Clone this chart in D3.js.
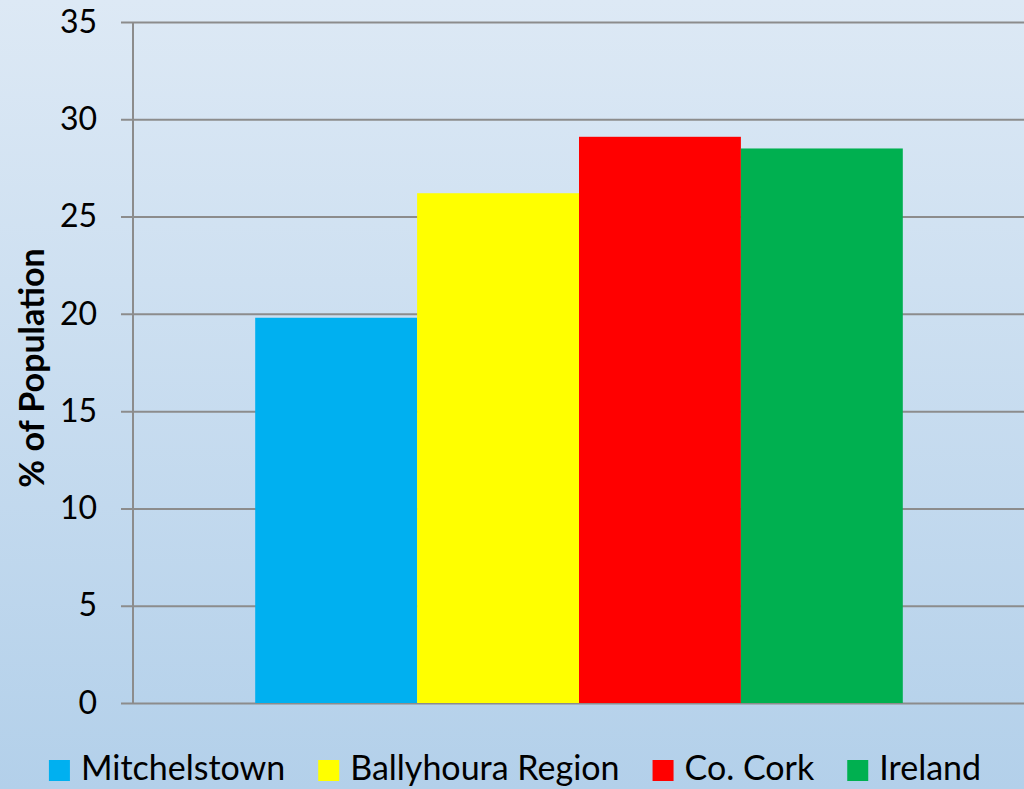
<!DOCTYPE html>
<html>
<head>
<meta charset="utf-8">
<script src="https://cdn.jsdelivr.net/npm/d3@7"></script>
<style>
  html, body { margin: 0; padding: 0; overflow: hidden; }
  body { width: 1024px; height: 789px; }
  text { font-family: Lato, "Open Sans", sans-serif; fill: #000; }
</style>
</head>
<body>
<div id="chart"></div>
<script>
// Chart data
const regions = ["Mitchelstown", "Ballyhoura Region", "Co. Cork", "Ireland"];
const percentages = [19.8, 26.2, 29.1, 28.5];
const barColors = ["#00b0f0", "#ffff00", "#ff0000", "#00b050"];
const yTicks = [0, 5, 10, 15, 20, 25, 30, 35];

const width = 1024, height = 789;
const margin = { top: 22, right: -1, bottom: 86, left: 133 };
const innerW = width - margin.left - margin.right;
const innerH = height - margin.top - margin.bottom;

const svg = d3.select("#chart")
    .append("svg")
    .attr("width", width)
    .attr("height", height);

// background gradient
const grad = svg.append("defs").append("linearGradient")
    .attr("id", "bg")
    .attr("x1", 0).attr("y1", 0).attr("x2", 0).attr("y2", 1);
grad.append("stop").attr("offset", "0%").attr("stop-color", "#dde9f5");
grad.append("stop").attr("offset", "100%").attr("stop-color", "#b3d0ea");

svg.append("rect")
    .attr("width", width)
    .attr("height", height)
    .attr("fill", "url(#bg)");

const g = svg.append("g")
    .attr("transform", `translate(${margin.left},${margin.top})`);

const y = d3.scaleLinear().domain([0, 35]).range([innerH, 0]);

// one category, bars placed side by side in the middle
const x = d3.scaleBand()
    .domain(regions)
    .range([innerW * 0.137, innerW * 0.863]);

// gridlines + ticks
const yAxis = d3.axisLeft(y)
    .tickValues(yTicks)
    .tickSize(-innerW - 12)
    .tickPadding(24);

const axisG = g.append("g")
    .attr("transform", "translate(-12,0)")
    .call(yAxis);
axisG.select(".domain").remove();
axisG.selectAll(".tick line")
    .attr("x1", 0)
    .attr("x2", innerW + 12)
    .attr("stroke", "#8c8c8c")
    .attr("stroke-width", 2);
axisG.selectAll(".tick text")
    .attr("x", -24)
    .style("font-size", "32px")
    .style("font-family", "Lato, sans-serif");

// vertical axis line
g.append("line")
    .attr("x1", 0).attr("x2", 0)
    .attr("y1", 0).attr("y2", innerH)
    .attr("stroke", "#8c8c8c")
    .attr("stroke-width", 2);

// bars
g.selectAll(".bar")
    .data(regions)
    .enter()
    .append("rect")
    .attr("class", "bar")
    .attr("x", d => x(d))
    .attr("width", x.bandwidth())
    .attr("y", (d, i) => y(percentages[i]))
    .attr("height", (d, i) => innerH - y(percentages[i]))
    .attr("fill", (d, i) => barColors[i]);

// y axis title
svg.append("text")
    .attr("transform", `translate(44,368) rotate(-90)`)
    .attr("text-anchor", "middle")
    .style("font-size", "34px")
    .style("font-weight", "bold")
    .text("% of Population");

// legend
const legend = svg.append("g").attr("class", "legend");
const items = legend.selectAll("g")
    .data(regions)
    .enter()
    .append("g");

items.append("rect")
    .attr("width", 21)
    .attr("height", 21)
    .attr("y", -21)
    .attr("fill", (d, i) => barColors[i]);

items.append("text")
    .attr("x", 32)
    .attr("y", -1)
    .style("font-size", "34px")
    .text(d => d);

let offset = 0;
items.each(function () {
    const w = 32 + this.querySelector("text").getComputedTextLength();
    d3.select(this).attr("transform", `translate(${offset},781)`);
    offset += w + 33;
});
const total = offset - 33;
legend.attr("transform", `translate(${(width - total) / 2 + 3},0)`);
</script>
</body>
</html>
